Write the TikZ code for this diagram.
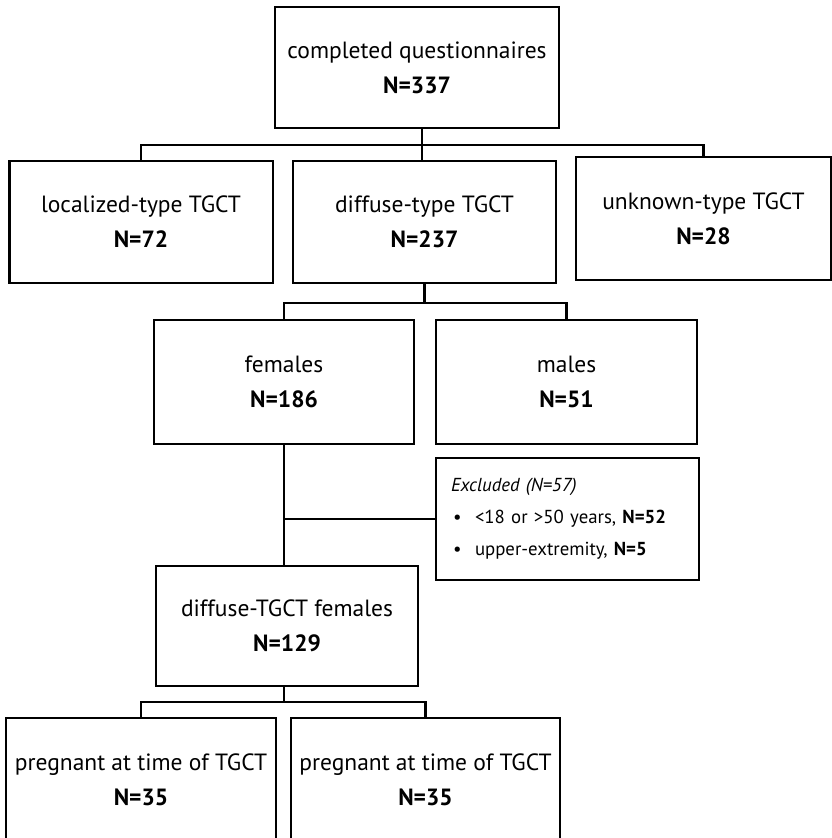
\documentclass[tikz,border=0pt]{standalone}
\usepackage{fontspec}
\setmainfont{PT Sans}
\begin{document}
\begin{tikzpicture}[x=1pt,y=-1pt,
  box/.style={draw, line width=2.5pt, inner sep=0pt, align=center,
    font=\fontsize{23.5}{35}\selectfont},
  conn/.style={line width=2.5pt},
  exbox/.style={draw, line width=2.5pt, inner sep=0pt, align=left,
    font=\fontsize{18.8}{32}\selectfont}]
\useasboundingbox (0,0) rectangle (832,838);
\node[box, minimum width=284pt, minimum height=121pt] (top) at (417,67.5)
  {completed questionnaires\\\textbf{N=337}};
\node[box, minimum width=263.5pt, minimum height=122pt] (loc) at (141,222)
  {localized-type TGCT\\\textbf{N=72}};
\node[box, minimum width=263pt, minimum height=122pt] (dif) at (424.5,222)
  {diffuse-type TGCT\\\textbf{N=237}};
\node[box, minimum width=255pt, minimum height=123pt] (unk) at (703.5,218.5)
  {unknown-type TGCT\\\textbf{N=28}};
\node[box, minimum width=260pt, minimum height=124pt] (fem) at (284,382)
  {females\\\textbf{N=186}};
\node[box, minimum width=261pt, minimum height=124pt] (mal) at (566.5,382)
  {males\\\textbf{N=51}};
\node[exbox, minimum width=263pt, minimum height=122pt, text width=233pt] (exc) at (567.5,519)
  {\textit{Excluded (N=57)}\\
   \makebox[24pt][l]{\hspace{2pt}•}<18 or >50 years, \textbf{N=52}\\
   \makebox[24pt][l]{\hspace{2pt}•}upper-extremity, \textbf{N=5}};
\node[box, minimum width=262pt, minimum height=120pt] (dfem) at (287,626)
  {diffuse-TGCT females\\\textbf{N=129}};
\node[box, minimum width=270pt, minimum height=124pt] (p1) at (141,780)
  {pregnant at time of TGCT\\\textbf{N=35}};
\node[box, minimum width=269pt, minimum height=124pt] (p2) at (425.5,780)
  {pregnant at time of TGCT\\\textbf{N=35}};
\coordinate (b1) at (0,145);
\coordinate (b2) at (0,303);
\coordinate (b3) at (0,702);
\coordinate (fx) at (284,0);
\coordinate (tx) at (422,0);
\draw[conn] (tx |- top.south) -- (tx |- dif.north);
\draw[conn] (loc.north) -- (loc.north |- b1) -- (unk.north |- b1) -- (unk.north);
\draw[conn] (dif.south) -- (dif.south |- b2);
\draw[conn] (fx |- fem.north) -- (fx |- b2) -- (mal.north |- b2) -- (mal.north);
\draw[conn] (fx |- fem.south) -- (fx |- dfem.north);
\draw[conn] (fx |- exc.west) -- (exc.west);
\draw[conn] (fx |- dfem.south) -- (fx |- b3);
\draw[conn] (p1.north) -- (p1.north |- b3) -- (p2.north |- b3) -- (p2.north);
\end{tikzpicture}
\end{document}
